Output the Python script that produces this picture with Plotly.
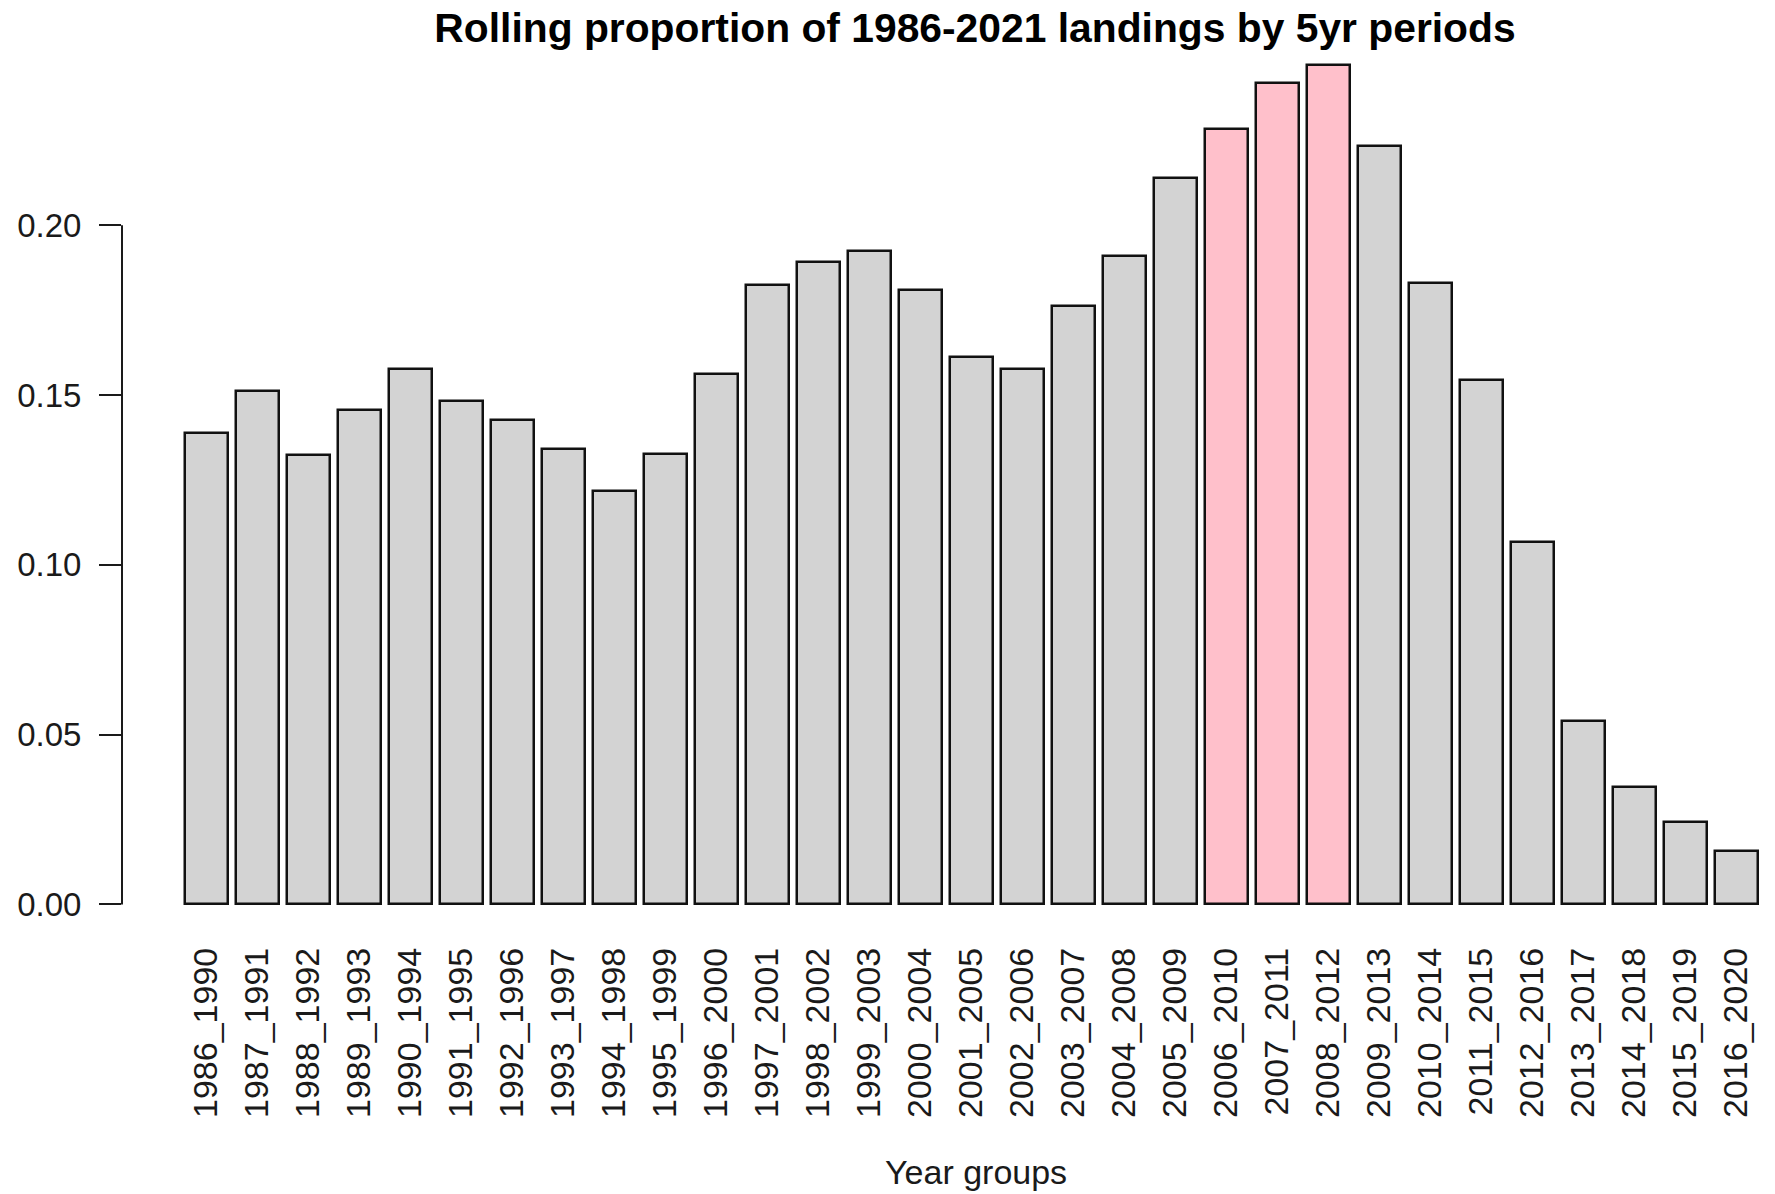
import plotly.graph_objects as go

# ---- data ----
year_groups = [
    "1986_1990", "1987_1991", "1988_1992", "1989_1993", "1990_1994", "1991_1995",
    "1992_1996", "1993_1997", "1994_1998", "1995_1999", "1996_2000", "1997_2001",
    "1998_2002", "1999_2003", "2000_2004", "2001_2005", "2002_2006", "2003_2007",
    "2004_2008", "2005_2009", "2006_2010", "2007_2011", "2008_2012", "2009_2013",
    "2010_2014", "2011_2015", "2012_2016", "2013_2017", "2014_2018", "2015_2019",
    "2016_2020",
]
proportions = [
    0.1387, 0.1513, 0.1323, 0.1457, 0.1577, 0.1483,
    0.1427, 0.1340, 0.1217, 0.1327, 0.1563, 0.1823,
    0.1893, 0.1923, 0.1810, 0.1613, 0.1577, 0.1763,
    0.1910, 0.2140, 0.2283, 0.2420, 0.2473, 0.2233,
    0.1830, 0.1543, 0.1067, 0.0540, 0.0347, 0.0243,
    0.0157,
]
highlight_groups = ["2006_2010", "2007_2011", "2008_2012"]
y_ticks = [0.0, 0.05, 0.10, 0.15, 0.20]

# R barplot layout: width 1, space 0.2
positions = [0.7 + 1.2 * i for i in range(len(year_groups))]
colors = ["#FFC0CB" if g in highlight_groups else "#D3D3D3" for g in year_groups]

W, H = 1775, 1194
ML, MR, MT, MB = 122, 0, 31, 256
px_per_unit = 42.5
x0 = 0.2 - (185 - ML) / px_per_unit
x1 = x0 + (W - ML - MR) / px_per_unit

fig = go.Figure(
    go.Bar(
        x=positions,
        y=proportions,
        width=1.0,
        marker=dict(color=colors, line=dict(color="#111111", width=2.5)),
        hoverinfo="skip",
    )
)

font_family = "Liberation Sans, Arial, sans-serif"

fig.update_layout(
    template="none",
    width=W,
    height=H,
    margin=dict(l=ML, r=MR, t=MT, b=MB, autoexpand=False),
    plot_bgcolor="white",
    paper_bgcolor="white",
    showlegend=False,
    bargap=0,
    font=dict(family=font_family, size=34, color="#1a1a1a"),
    title=dict(
        text="Rolling proportion of 1986-2021 landings by 5yr periods",
        x=975 / W,
        xanchor="center",
        y=1 - 28 / H,
        yanchor="middle",
        xref="container",
        yref="container",
        font=dict(family=font_family, size=40.8, color="#000000", weight="bold"),
    ),
    xaxis=dict(
        automargin=False,
        range=[x0, x1],
        tickmode="array",
        tickvals=positions,
        ticktext=year_groups,
        tickangle=-90,
        ticks="",
        showline=False,
        showgrid=False,
        zeroline=False,
        tickfont=dict(size=34, color="#1a1a1a"),
        ticklabelstandoff=2,
    ),
    yaxis=dict(
        automargin=False,
        range=[-0.0099, 0.2572],
        tickmode="array",
        tickvals=y_ticks,
        tickformat=".2f",
        ticks="outside",
        ticklen=22,
        tickwidth=2,
        tickcolor="#1a1a1a",
        showline=False,
        showgrid=False,
        zeroline=False,
        tickfont=dict(size=33, color="#1a1a1a"),
        ticklabelstandoff=11,
    ),
)

# y axis line only spanning the tick range (R style)
fig.add_shape(
    type="line",
    xref="paper", yref="y",
    x0=0, x1=0, y0=y_ticks[0], y1=y_ticks[-1],
    line=dict(color="#1a1a1a", width=2),
)

fig.add_annotation(
    text="Year groups",
    xref="paper", yref="paper",
    x=(976 - ML) / (W - ML - MR),
    y=-(1192 - (H - MB)) / (H - MT - MB),
    xanchor="center", yanchor="bottom",
    borderpad=0,
    showarrow=False,
    font=dict(family=font_family, size=34, color="#1a1a1a"),
)

fig.write_html(
    "out.html",
    config={"displayModeBar": False},
    post_script="document.body.style.margin='0';document.body.style.overflow='hidden';",
)
